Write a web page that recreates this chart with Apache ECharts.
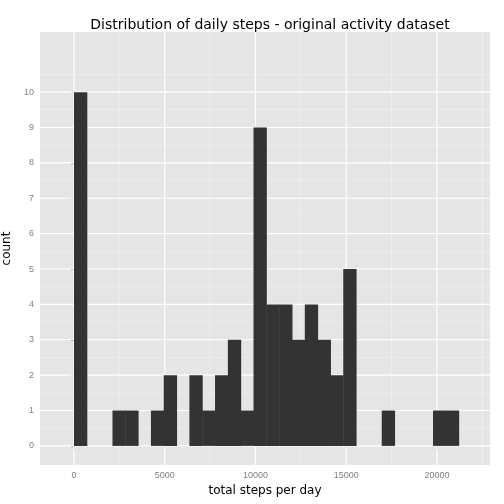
<!DOCTYPE html>
<html>
<head><meta charset="utf-8"></head>
<body style="margin:0">
<div id="container" style="width:504px;height:504px"></div>
<script src="https://cdn.jsdelivr.net/npm/echarts@6/dist/echarts.min.js"></script>
<script>
var binWidth = 21194 / 30;
var counts = [10,0,0,1,1,0,1,2,0,2,1,2,3,1,9,4,4,3,4,3,2,5,0,0,1,0,0,0,1,1];
var xTicks = [0, 5000, 10000, 15000, 20000];
var yTicks = [0,1,2,3,4,5,6,7,8,9,10];

var data = counts.map(function (c, i) { return [i * binWidth, (i + 1) * binWidth, c]; });

var chart = echarts.init(document.getElementById('container'));
chart.setOption({
  backgroundColor: '#fff',
  animation: false,
  title: {
    text: 'Distribution of daily steps - original activity dataset',
    left: 265, top: 13, textAlign: 'center',
    textStyle: {fontFamily: 'DejaVu Sans', fontSize: 14, fontWeight: 'normal', color: '#000'}
  },
  grid: {left: 40, right: 14, top: 32, bottom: 39, containLabel: false, outerBoundsMode: 'none',
    show: true, backgroundColor: '#e5e5e5', borderWidth: 0},
  xAxis: {
    type: 'value', min: -1873, max: 22920,
    name: 'total steps per day', nameLocation: 'center', nameGap: 20,
    nameTextStyle: {fontFamily: 'DejaVu Sans', fontSize: 12, color: '#000'},
    axisLine: {show: false},
    axisTick: {show: true, length: 3, lineStyle: {color: '#7f7f7f'}, customValues: xTicks},
    axisLabel: {fontSize: 9, color: '#7f7f7f', margin: 6, customValues: xTicks,
      formatter: function (v) { return String(v); }},
    splitLine: {show: false}
  },
  yAxis: {
    type: 'value', min: -0.54, max: 11.7,
    name: 'count', nameLocation: 'center', nameGap: 24, nameRotate: 90,
    nameTextStyle: {fontFamily: 'DejaVu Sans', fontSize: 12, color: '#000'},
    axisLine: {show: false},
    axisTick: {show: true, length: 3, lineStyle: {color: '#7f7f7f'}, customValues: yTicks},
    axisLabel: {fontSize: 9, color: '#7f7f7f', margin: 6, customValues: yTicks},
    splitLine: {show: false}
  },
  series: [{
    type: 'custom', silent: true,
    renderItem: function (params, api) {
      var g = [];
      var c = params.coordSys;
      // grid lines drawn once at the first item
      if (params.dataIndex === 0) {
        xTicks.forEach(function (v) {
          var x = api.coord([v, 0])[0];
          g.push({type: 'line', shape: {x1: x, y1: c.y, x2: x, y2: c.y + c.height}, style: {stroke: '#fff', lineWidth: 1.2}});
          var xm = api.coord([v + 2500, 0])[0];
          if (xm < c.x + c.width) g.push({type: 'line', shape: {x1: xm, y1: c.y, x2: xm, y2: c.y + c.height}, style: {stroke: '#f2f2f2', lineWidth: 0.6}});
        });
        yTicks.forEach(function (v) {
          var y = api.coord([0, v])[1];
          g.push({type: 'line', shape: {x1: c.x, y1: y, x2: c.x + c.width, y2: y}, style: {stroke: '#fff', lineWidth: 1.2}});
          var ym = api.coord([0, v + 0.5])[1];
          if (ym > c.y) g.push({type: 'line', shape: {x1: c.x, y1: ym, x2: c.x + c.width, y2: ym}, style: {stroke: '#f2f2f2', lineWidth: 0.6}});
        });
      }
      var cnt = api.value(2);
      if (cnt > 0) {
        var p0 = api.coord([api.value(0), 0]);
        var p1 = api.coord([api.value(1), cnt]);
        g.push({type: 'rect', shape: {x: p0[0], y: p1[1], width: p1[0] - p0[0] + 0.5, height: p0[1] - p1[1]},
          style: {fill: '#333333', stroke: null, lineWidth: 0}});
      }
      return {type: 'group', children: g};
    },
    encode: {x: [0, 1], y: 2},
    data: data
  }]
});
</script>
</body>
</html>
